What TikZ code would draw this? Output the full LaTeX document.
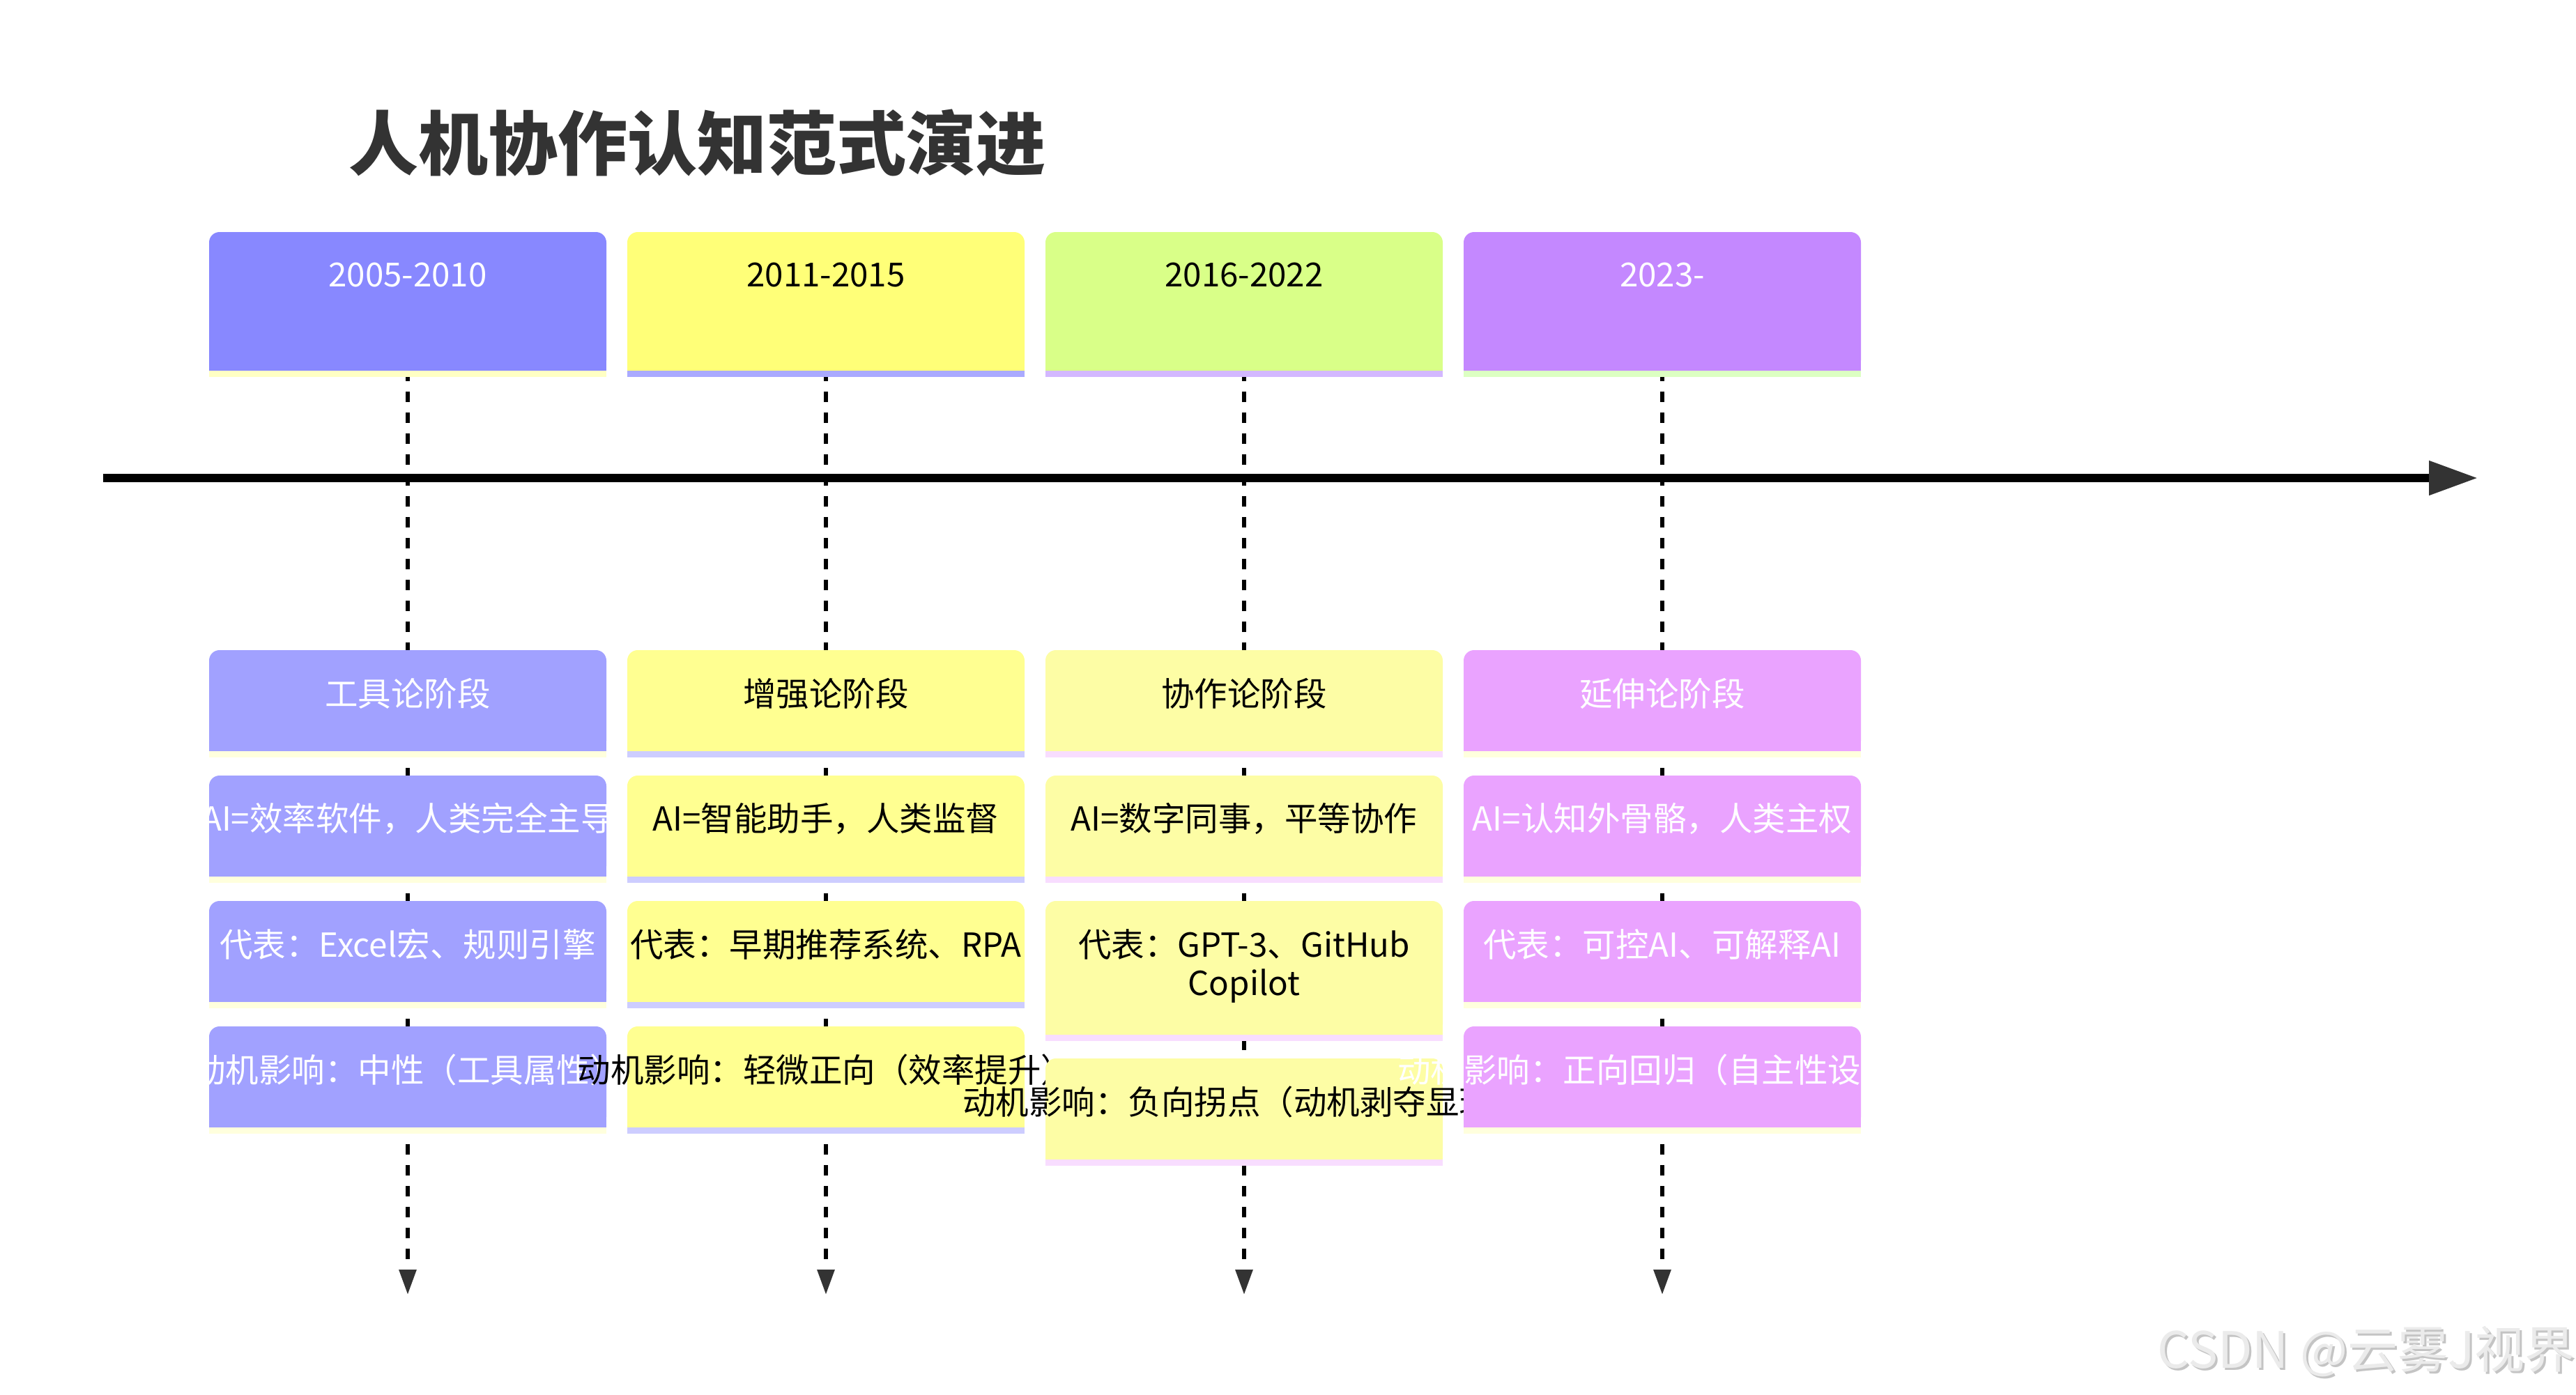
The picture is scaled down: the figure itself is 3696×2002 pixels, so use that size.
\documentclass[tikz,border=0pt]{standalone}
\usepackage{fontspec}
\setmainfont{Noto Sans CJK SC}
\usetikzlibrary{arrows.meta,backgrounds}
\definecolor{pA}{HTML}{8888FF}
\definecolor{pB}{HTML}{FFFF78}
\definecolor{pC}{HTML}{D9FF88}
\definecolor{pD}{HTML}{C488FF}
\definecolor{psA}{HTML}{FFFFC4}
\definecolor{psB}{HTML}{AAAAFF}
\definecolor{psC}{HTML}{D3B8FF}
\definecolor{psD}{HTML}{DCFFC2}
\definecolor{eA}{HTML}{A1A1FF}
\definecolor{eB}{HTML}{FFFF91}
\definecolor{eC}{HTML}{FDFDA5}
\definecolor{eD}{HTML}{EAA3FF}
\definecolor{esA}{HTML}{FFFFDD}
\definecolor{esB}{HTML}{CDCDFF}
\definecolor{esC}{HTML}{F8DDFF}
\definecolor{esD}{HTML}{FFFFDD}
\definecolor{titlegray}{HTML}{333333}
\definecolor{arrowgray}{HTML}{333333}
\definecolor{wmfill}{HTML}{EBEBEB}
\definecolor{wmshade}{HTML}{C4C4C4}
\newcommand\tlbox[6]{%
  \node[boxbase, minimum height=#4, fill=#5] (#1) at (#2,#3) {};
  \fill[#5] (#1.west) rectangle (#1.south east);
  \fill[#6] (#1.south west) rectangle ([yshift=-2.25pt]#1.south east);
}
\tikzset{
  boxbase/.style={draw=none, minimum width=142.5pt, inner sep=0pt, outer sep=0pt,
    rounded corners=3.75pt, anchor=north west},
  lbl/.style={inner sep=0pt, font=\fontsize{11.875pt}{13.75pt}\selectfont, align=center},
  wlbl/.style={lbl, text=white},
  klbl/.style={lbl, text=black},
  vline/.style={draw=black, line width=1.5pt, dash pattern=on 3.75pt off 3.75pt,
    -{Triangle[length=9pt,width=6pt,color=arrowgray]}},
  axisline/.style={draw=black, line width=2.8pt,
    -{Triangle[length=17.5pt,width=11.75pt,color=arrowgray]}},
}
\begin{document}
\begin{tikzpicture}[x=0.25pt,y=-0.25pt]
\useasboundingbox (0,0) rectangle (3696,2002);

% title
\node[inner sep=0pt, font=\fontsize{25pt}{30pt}\selectfont\bfseries, text=titlegray]
  (title) at (1000,205) {人机协作认知范式演进};

% coordinates
\coordinate (A0) at (148,686);
\coordinate (A1) at (3555,686);
\coordinate (B1) at (585,1858);
\coordinate (B2) at (1185,1858);
\coordinate (B3) at (1785,1858);
\coordinate (B4) at (2385,1858);

% ---------- column 1 ----------
\tlbox{P1}{300}{333}{49.75pt}{pA}{psA}
\node[wlbl] (tp1) at (585,395) {2005-2010};
\tlbox{E11}{300}{933}{36.25pt}{eA}{esA}
\node[wlbl] (t11) at (585,995) {工具论阶段};
\tlbox{E12}{300}{1113}{36.25pt}{eA}{esA}
\node[wlbl] (t12) at (585,1175) {AI=效率软件，人类完全主导};
\tlbox{E13}{300}{1293}{36.25pt}{eA}{esA}
\node[wlbl] (t13) at (585,1355) {代表：Excel宏、规则引擎};
\tlbox{E14}{300}{1473}{36.25pt}{eA}{esA}
\node[wlbl] (t14) at (585,1535) {动机影响：中性（工具属性）};

% ---------- column 2 ----------
\tlbox{P2}{900}{333}{49.75pt}{pB}{psB}
\node[klbl] (tp2) at (1185,395) {2011-2015};
\tlbox{E21}{900}{933}{36.25pt}{eB}{esB}
\node[klbl] (t21) at (1185,995) {增强论阶段};
\tlbox{E22}{900}{1113}{36.25pt}{eB}{esB}
\node[klbl] (t22) at (1185,1175) {AI=智能助手，人类监督};
\tlbox{E23}{900}{1293}{36.25pt}{eB}{esB}
\node[klbl] (t23) at (1185,1355) {代表：早期推荐系统、RPA};
\tlbox{E24}{900}{1473}{36.25pt}{eB}{esB}
\node[klbl] (t24) at (1185,1535) {动机影响：轻微正向（效率提升）};

% ---------- column 3 ----------
\tlbox{P3}{1500}{333}{49.75pt}{pC}{psC}
\node[klbl] (tp3) at (1785,395) {2016-2022};
\tlbox{E31}{1500}{933}{36.25pt}{eC}{esC}
\node[klbl] (t31) at (1785,995) {协作论阶段};
\tlbox{E32}{1500}{1113}{36.25pt}{eC}{esC}
\node[klbl] (t32) at (1785,1175) {AI=数字同事，平等协作};
\tlbox{E33}{1500}{1293}{48pt}{eC}{esC}
\node[klbl] (t33) at (1785,1386) {代表：GPT-3、GitHub\\Copilot};
\tlbox{E34}{1500}{1519}{36.25pt}{eC}{esC}
\node[klbl] (t34) at (1785,1581) {动机影响：负向拐点（动机剥夺显现）};

% ---------- column 4 ----------
\tlbox{P4}{2100}{333}{49.75pt}{pD}{psD}
\node[wlbl] (tp4) at (2385,395) {2023-};
\tlbox{E41}{2100}{933}{36.25pt}{eD}{esD}
\node[wlbl] (t41) at (2385,995) {延伸论阶段};
\tlbox{E42}{2100}{1113}{36.25pt}{eD}{esD}
\node[wlbl] (t42) at (2385,1175) {AI=认知外骨骼，人类主权};
\tlbox{E43}{2100}{1293}{36.25pt}{eD}{esD}
\node[wlbl] (t43) at (2385,1355) {代表：可控AI、可解释AI};
\tlbox{E44}{2100}{1473}{36.25pt}{eD}{esD}
\node[wlbl] (t44) at (2385,1535) {动机影响：正向回归（自主性设计）};

% watermark
\node[inner sep=0pt, font=\fontsize{18pt}{20pt}\selectfont, text=wmshade]
  (wms) at (3398,1943) {CSDN @云雾J视界};
\node[inner sep=0pt, font=\fontsize{18pt}{20pt}\selectfont, text=wmfill]
  (wm) at (3395,1940) {CSDN @云雾J视界};

% background: lines
\begin{pgfonlayer}{background}
\fill[white] (0,0) rectangle (3696,2002);
\draw[axisline] (A0) -- (A1);
\draw[vline] (P1.south) -- (B1);
\draw[vline] (P2.south) -- (B2);
\draw[vline] (P3.south) -- (B3);
\draw[vline] (P4.south) -- (B4);
\end{pgfonlayer}
\end{tikzpicture}
\end{document}
